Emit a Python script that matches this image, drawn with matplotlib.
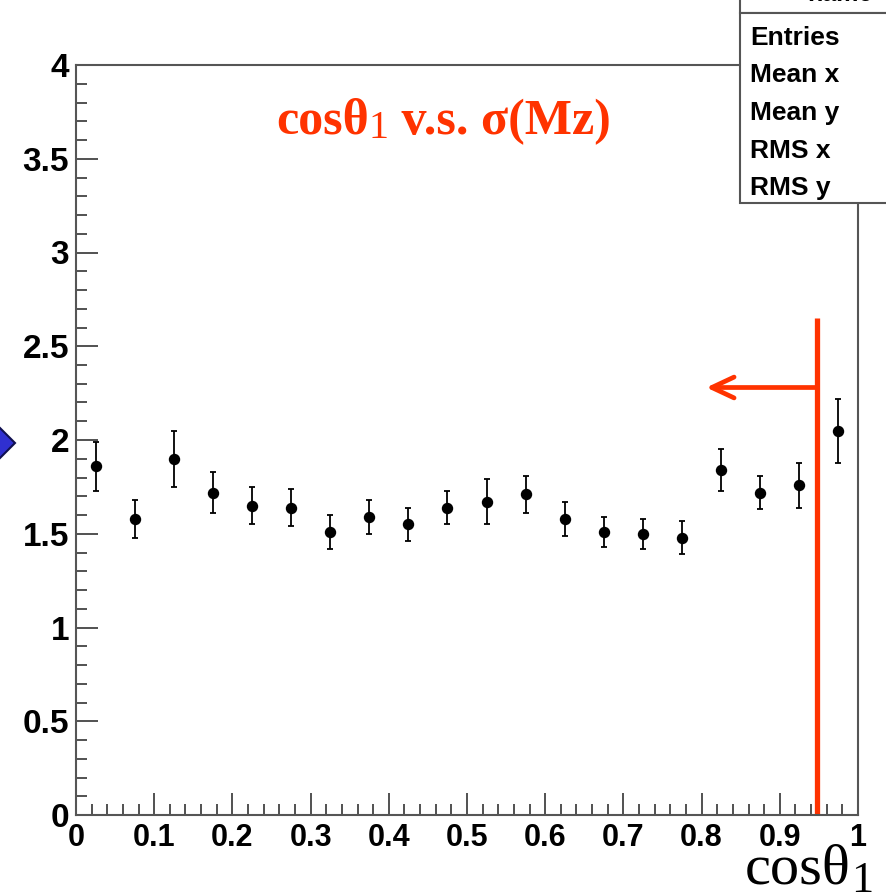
"""
Recreate the ROOT-style profile plot of sigma(Mz) versus cos(theta_1).
"""
import numpy as np
import matplotlib
matplotlib.use("Agg")
import matplotlib.pyplot as plt
from matplotlib.patches import Polygon, Rectangle
from matplotlib.ticker import MultipleLocator

# bin centres and values
bin_centres = [0.025, 0.075, 0.125, 0.175, 0.225, 0.275, 0.325, 0.375, 0.425, 0.475,
               0.525, 0.575, 0.625, 0.675, 0.725, 0.775, 0.825, 0.875, 0.925, 0.975]
sigma_mz = [1.86, 1.58, 1.90, 1.72, 1.65, 1.64, 1.51, 1.59, 1.55, 1.64,
            1.67, 1.71, 1.58, 1.51, 1.50, 1.48, 1.84, 1.72, 1.76, 2.05]
sigma_err = [0.13, 0.10, 0.15, 0.11, 0.10, 0.10, 0.09, 0.09, 0.09, 0.09,
             0.12, 0.10, 0.09, 0.08, 0.08, 0.09, 0.11, 0.09, 0.12, 0.17]

x_ticks = [0, 0.1, 0.2, 0.3, 0.4, 0.5, 0.6, 0.7, 0.8, 0.9, 1]
x_tick_labels = ["0", "0.1", "0.2", "0.3", "0.4", "0.5", "0.6", "0.7", "0.8", "0.9", "1"]
y_ticks = [0, 0.5, 1, 1.5, 2, 2.5, 3, 3.5, 4]
y_tick_labels = ["0", "0.5", "1", "1.5", "2", "2.5", "3", "3.5", "4"]

cut_value = 0.947      # red cut line on cos(theta_1)
cut_top = 2.65
arrow_level = 2.28
arrow_tip = 0.806

stat_labels = ["Entries", "Mean x", "Mean y", "RMS x", "RMS y"]

RED = "#ff3300"
W, H = 887, 893


def text_run(fig, x_px, y_px, pieces, color):
    """Write pieces of text one after another on a common baseline (pixel coords)."""
    renderer = fig.canvas.get_renderer()
    for txt, size, weight, dy in pieces:
        t = fig.text(x_px / W, 1 - (y_px + dy) / H, txt, ha="left", va="baseline",
                     fontsize=size, fontweight=weight, family="Liberation Serif",
                     color=color)
        x_px += t.get_window_extent(renderer).width


fig = plt.figure(figsize=(W / 100, H / 100), dpi=100)
ax = fig.add_axes([76 / W, 1 - 815 / H, (858 - 76) / W, (815 - 65) / H])

ax.errorbar(bin_centres, sigma_mz, yerr=sigma_err, fmt="o", color="black",
            markersize=7.2, elinewidth=1.3, capsize=2.5, capthick=1.3)

ax.set_xlim(0, 1)
ax.set_ylim(0, 4)
ax.set_xticks(x_ticks)
ax.set_xticklabels(x_tick_labels)
ax.set_yticks(y_ticks)
ax.set_yticklabels(y_tick_labels)
ax.xaxis.set_minor_locator(MultipleLocator(0.02))
ax.yaxis.set_minor_locator(MultipleLocator(0.1))

ax.tick_params(which="both", direction="in", top=False, right=False,
               color="#333333", width=1.2)
ax.tick_params(which="major", length=16, pad=6)
ax.tick_params(which="minor", length=8)
ax.tick_params(axis="x", labelsize=22)
ax.tick_params(axis="y", labelsize=24, pad=5)
for lab in ax.get_xticklabels() + ax.get_yticklabels():
    lab.set_fontfamily("Liberation Sans")
    lab.set_fontweight("bold")
for sp in ax.spines.values():
    sp.set_color("#555555")
    sp.set_linewidth(1.5)

# cut line and arrow
ax.plot([cut_value, cut_value], [0, cut_top], color=RED, lw=3.8, solid_capstyle="butt")
ax.annotate("", xy=(arrow_tip, arrow_level), xytext=(cut_value, arrow_level),
            arrowprops=dict(arrowstyle="->,head_length=16,head_width=7.5", color=RED,
                            lw=3.4, mutation_scale=1, shrinkA=0, shrinkB=0))

# title inside the frame
text_run(fig, 276, 134, [("cosθ", 36, "bold", 0), ("1", 29, "normal", 4),
                         (" v.s. σ(Mz)", 36, "bold", 0)], RED)

# axis label at the lower right
text_run(fig, 745, 884, [("cosθ", 42, "normal", 0), ("1", 32, "normal", 8)], "black")

# stats boxes (cut by the picture edge)
fig.add_artist(Rectangle((740 / W, 1 - 13 / H), 200 / W, 40 / H, transform=fig.transFigure,
                         facecolor="white", edgecolor="#555555", lw=1.5, clip_on=False))
fig.add_artist(Rectangle((740 / W, 1 - 203 / H), 200 / W, 190 / H, transform=fig.transFigure,
                         facecolor="white", edgecolor="#555555", lw=1.5, clip_on=False))
fig.text(840 / W, 1 - 1 / H, "name", ha="center", va="baseline", fontsize=18,
         fontweight="bold", family="Liberation Sans")
for i, lab in enumerate(stat_labels):
    fig.text(750 / W, 1 - (45 + i * 37.5) / H, lab, ha="left", va="baseline",
             fontsize=19, fontweight="bold", family="Liberation Sans")

# blue diamond marker at the left edge
cx, cy, r = -3, 443, 18
diamond = Polygon([((cx - r) / W, 1 - cy / H), (cx / W, 1 - (cy - r) / H),
                   ((cx + r) / W, 1 - cy / H), (cx / W, 1 - (cy + r) / H)],
                  closed=True, transform=fig.transFigure, facecolor="#3030d0",
                  edgecolor="#101050", lw=1.5)
fig.add_artist(diamond)

fig.savefig("out.png", dpi=100)
plt.close(fig)
